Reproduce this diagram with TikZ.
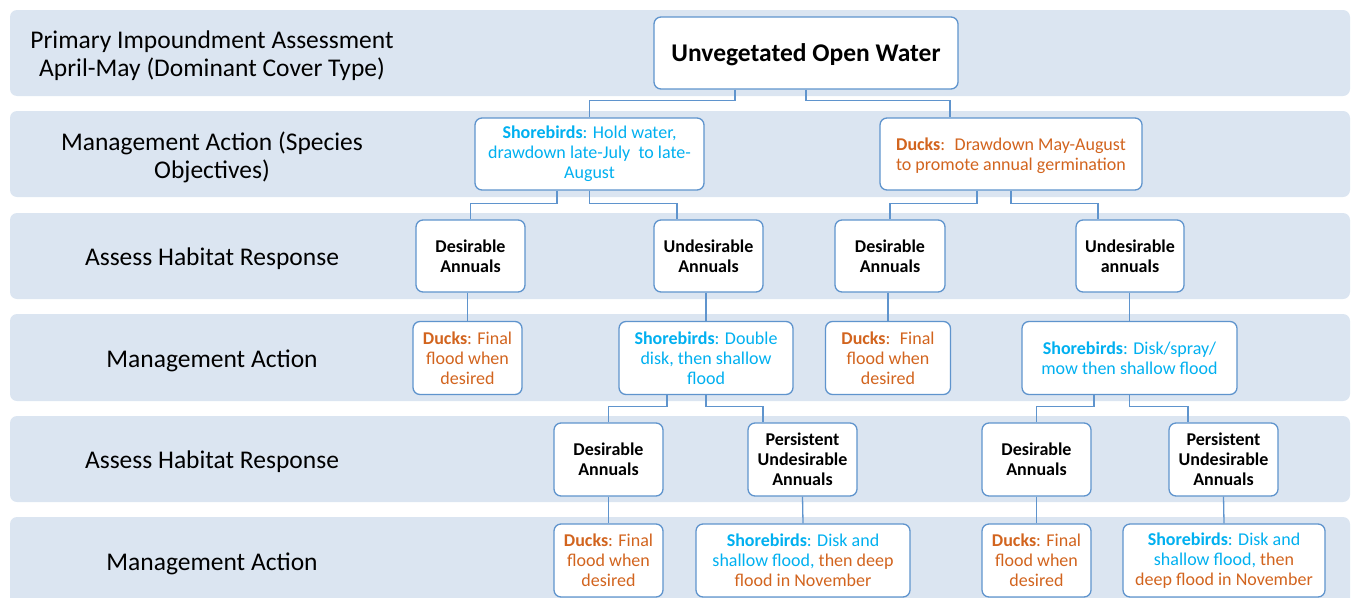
\documentclass[tikz,border=0pt]{standalone}
\usepackage{fontspec}
\setmainfont{Carlito}
\usepackage{tikz}
\usepackage{xcolor}
\definecolor{bandfill}{RGB}{219, 229, 241}
\definecolor{boxline}{RGB}{95, 148, 205}
\definecolor{shorecl}{RGB}{0, 176, 240}
\definecolor{duckcl}{RGB}{210, 100, 30}
\tikzset{
  % fon polosalari
  band/.style     = {fill=bandfill, rounded corners=7pt},
  % qator sarlavhalari
  rowlab/.style   = {font=\fontsize{25.5}{28}\selectfont, align=center, inner sep=0pt},
  % qutilar
  treebox/.style  = {draw=boxline, line width=1.3pt, fill=white, rounded corners=7pt,
                     inner sep=0pt, align=center, font=\fontsize{18}{20}\selectfont},
  rootbox/.style  = {treebox, font=\fontsize{25.5}{28}\selectfont\bfseries, text depth=0pt},
  habbox/.style   = {treebox, font=\fontsize{18}{20}\selectfont\bfseries},
  shorebox/.style = {treebox, text=shorecl},
  duckbox/.style  = {treebox, text=duckcl},
  % ulovchi chiziqlar
  conn/.style     = {draw=boxline, line width=1.3pt},
}

\begin{document}
\begin{tikzpicture}[x=1pt, y=-1pt]
  \useasboundingbox (0,0) rectangle (1351,597);
  % polosalar
  \fill[band] (10,10)  rectangle (1350,96);
  \fill[band] (10,111) rectangle (1350,197);
  \fill[band] (10,213) rectangle (1350,299);
  \fill[band] (10,314) rectangle (1350,401);
  \fill[band] (10,416) rectangle (1350,502);
  \fill[band] (10,517) rectangle (1350,640);
  % sarlavhalar
  \node[rowlab] (cap1) at (212,56)  {Primary Impoundment Assessment\\April-May (Dominant Cover Type)};
  \node[rowlab] (cap2) at (212,157) {Management Action (Species\\Objectives)};
  \node[rowlab] (cap3) at (212,259) {Assess Habitat Response};
  \node[rowlab] (cap4) at (212,361) {Management Action};
  \node[rowlab] (cap5) at (212,462) {Assess Habitat Response};
  \node[rowlab] (cap6) at (212,564) {Management Action};
  % 1-2 qatorlar
  \node[rootbox, minimum width=304, minimum height=72] (root) at (806,53) {Unvegetated Open Water};
  \node[shorebox, minimum width=229, minimum height=72] (shb) at (589.5,154)
    {\textbf{Shorebirds}: Hold water,\\drawdown late-July~ to late-\\August};
  \node[duckbox, minimum width=262, minimum height=72, text depth=0pt] (dkb) at (1011,154)
    {\textbf{Ducks}:~ Drawdown May-August\\to promote annual germination};
  % 3-qator
  \node[habbox, minimum width=109, minimum height=72] (da1) at (470.5,256) {Desirable\\Annuals};
  \node[habbox, minimum width=109, minimum height=72] (ua1) at (708.5,256) {Undesirable\\Annuals};
  \node[habbox, minimum width=110, minimum height=72] (da2) at (890,256)   {Desirable\\Annuals};
  \node[habbox, minimum width=108, minimum height=72] (ua2) at (1130,256)  {Undesirable\\annuals};
  % 4-qator
  \node[duckbox, minimum width=109, minimum height=73] (dk1) at (467.5,358)
    {\textbf{Ducks}: Final\\flood when\\desired};
  \node[shorebox, minimum width=174, minimum height=73] (sb1) at (706,358)
    {\textbf{Shorebirds}: Double\\disk, then shallow\\flood};
  \node[duckbox, minimum width=125, minimum height=73] (dk2) at (888,358)
    {\textbf{Ducks}:~ Final\\flood when\\desired};
  \node[shorebox, minimum width=215, minimum height=73] (sb2) at (1129.5,358)
    {\textbf{Shorebirds}: Disk/spray/\\mow then shallow flood};
  % 5-qator
  \node[habbox, minimum width=109, minimum height=73] (da3) at (608.5,459.5)  {Desirable\\Annuals};
  \node[habbox, minimum width=109, minimum height=73] (pu1) at (802.5,459.5)  {Persistent\\Undesirable\\Annuals};
  \node[habbox, minimum width=109, minimum height=73] (da4) at (1036.5,459.5) {Desirable\\Annuals};
  \node[habbox, minimum width=109, minimum height=73] (pu2) at (1223.5,459.5) {Persistent\\Undesirable\\Annuals};
  % 6-qator
  \node[duckbox, minimum width=109, minimum height=73] (dk3) at (608.5,560.5)
    {\textbf{Ducks}: Final\\flood when\\desired};
  \node[shorebox, minimum width=214, minimum height=73] (sb3) at (803,560.5)
    {\textbf{Shorebirds}: Disk and\\shallow flood, \color{duckcl}then deep\\\color{duckcl}flood in November};
  \node[duckbox, minimum width=109, minimum height=73] (dk4) at (1036.5,560.5)
    {\textbf{Ducks}: Final\\flood when\\desired};
  \node[shorebox, minimum width=202, minimum height=73] (sb4) at (1224,560.5)
    {\textbf{Shorebirds}: Disk and\\shallow flood, \color{duckcl}then\\\color{duckcl}deep flood in November};
  % ulovchilar
  \draw[conn] ([xshift=-71pt]root.south) -- ++(0,11) -| (shb.north);
  \draw[conn] (root.south) -- ++(0,11) -| ([xshift=-61pt]dkb.north);
  \draw[conn] ([xshift=-32.5pt]shb.south) -- ++(0,13) -| (da1.north);
  \draw[conn] (shb.south) -- ++(0,13) -| ([xshift=-31.5pt]ua1.north);
  \draw[conn] ([xshift=-34pt]dkb.south) -- ++(0,13) -| (da2.north);
  \draw[conn] (dkb.south) -- ++(0,13) -| ([xshift=-32pt]ua2.north);
  \draw[conn] (da1.south -| dk1.north) -- (dk1.north);
  \draw[conn] (ua1.south -| sb1.north) -- (sb1.north);
  \draw[conn] (da2.south -| dk2.north) -- (dk2.north);
  \draw[conn] (ua2.south -| sb2.north) -- (sb2.north);
  \draw[conn] ([xshift=-39pt]sb1.south) -- ++(0,11) -| (da3.north);
  \draw[conn] (sb1.south) -- ++(0,11) -| ([xshift=-39.5pt]pu1.north);
  \draw[conn] ([xshift=-35.5pt]sb2.south) -- ++(0,11) -| (da4.north);
  \draw[conn] (sb2.south) -- ++(0,11) -| ([xshift=-35.5pt]pu2.north);
  \draw[conn] (da3.south) -- (dk3.north);
  \draw[conn] (pu1.south) -- (sb3.north);
  \draw[conn] (da4.south) -- (dk4.north);
  \draw[conn] (pu2.south) -- (sb4.north);
\end{tikzpicture}
\end{document}
